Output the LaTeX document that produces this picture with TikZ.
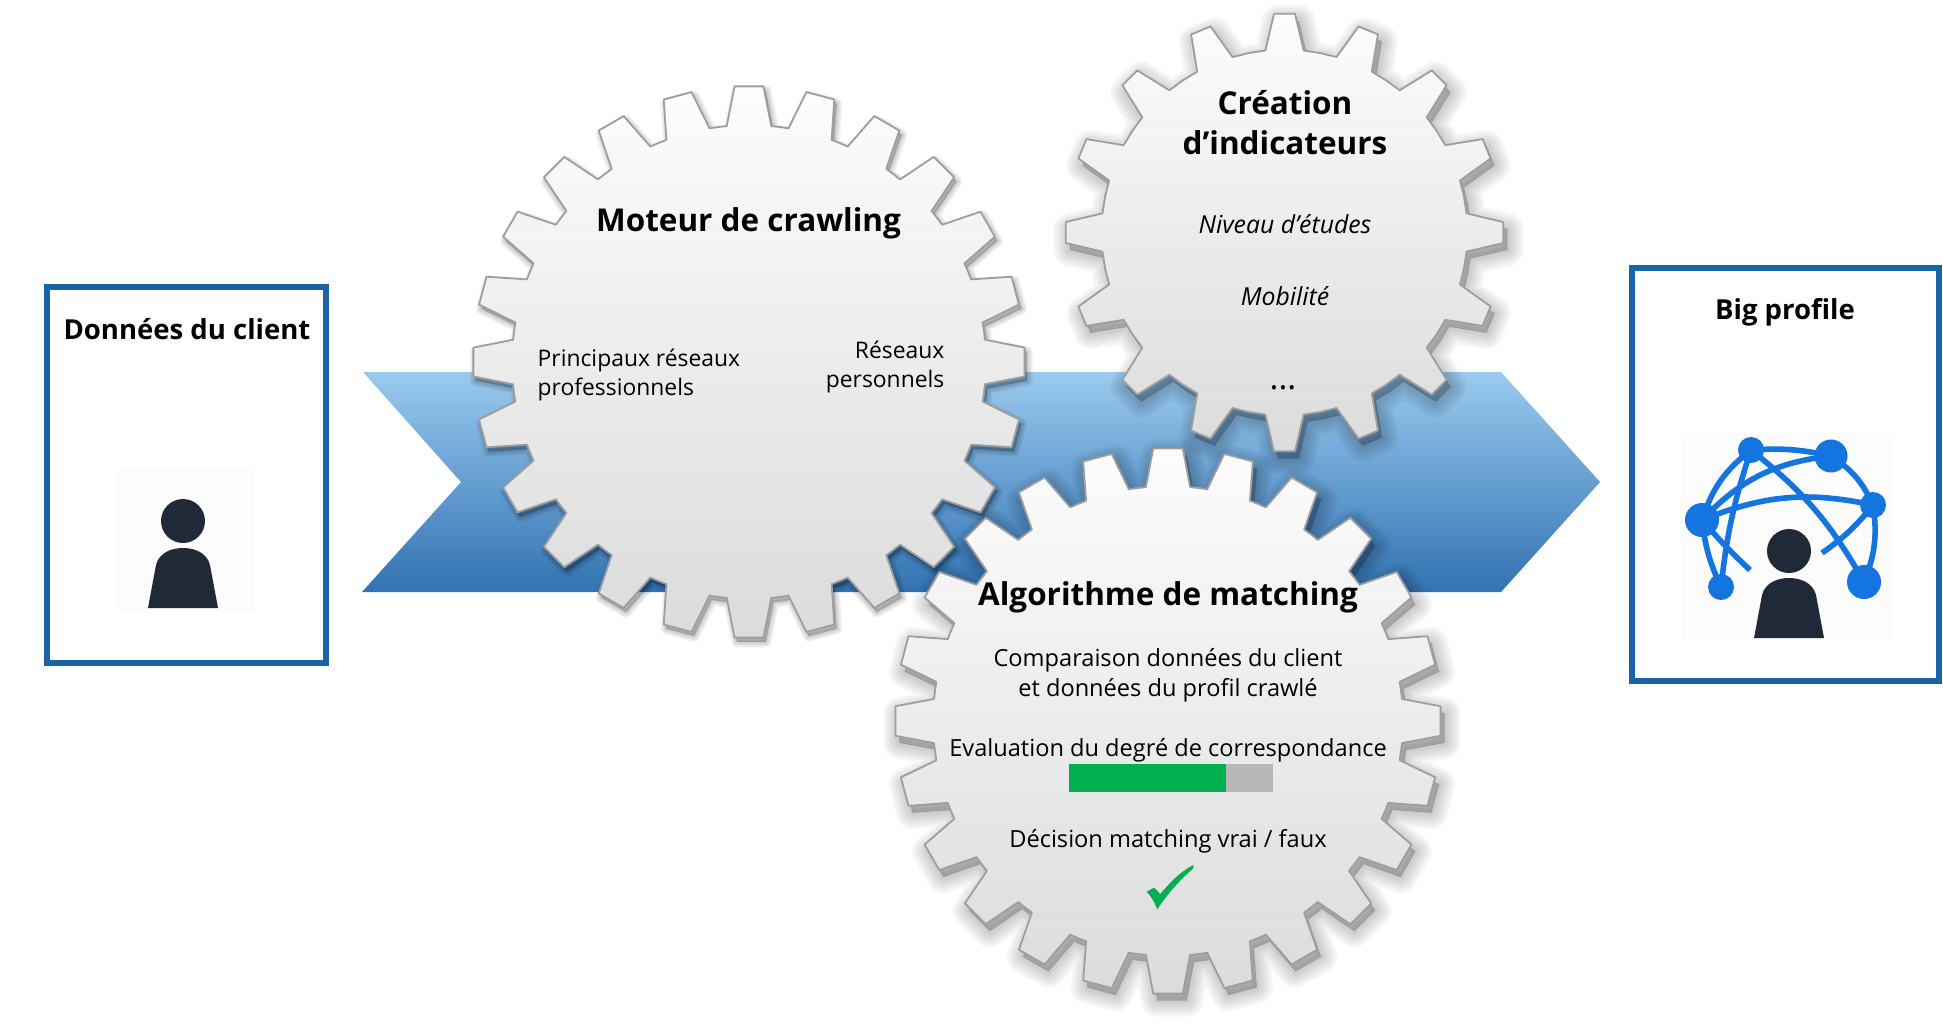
\documentclass[tikz,border=0pt]{standalone}
\usepackage{fontspec}
\setmainfont{Open Sans}
\usepackage{tikz}

\definecolor{boxblue}{HTML}{1A63A5}
\definecolor{arrowtop}{HTML}{9ACAEF}
\definecolor{arrowmid}{HTML}{6A9FD2}
\definecolor{arrowbot}{HTML}{3272B2}
\definecolor{netblue}{HTML}{1474E0}
\definecolor{persondark}{HTML}{1F2937}
\definecolor{okgreen}{HTML}{00B050}
\colorlet{gearline}{black!38}
\colorlet{geartop}{black!1}
\colorlet{gearbot}{black!14}

\newcommand{\gearoutline}[6][]{\path[#1] ({-#6}:#3)
  \foreach \k in {1,...,#4} {
    -- ({(\k-1)*360/#4-#5}:#2) -- ({(\k-1)*360/#4+#5}:#2)
    -- ({(\k-1)*360/#4+#6}:#3) -- ({(\k-1)*360/#4+180/#4}:#3)
    -- ({\k*360/#4-#6}:#3)
  } -- cycle;}

\newcommand{\gear}[8]{
\begin{scope}[shift={(#1,#2)}]
\begin{scope}[shift={(#8*4,#8*7)}]
\foreach \w in {32,26,20,14,8,2} {
  \gearoutline[draw=black, fill=black, opacity=0.04, line join=round, line width=#8*#8*\w*0.01cm]{#3}{#4}{#5}{#6}{#7}
}
\end{scope}
\gearoutline[draw=gearline, line width=0.018cm, line join=round, top color=geartop, bottom color=gearbot]{#3}{#4}{#5}{#6}{#7}
\end{scope}
}

\begin{document}
\begin{tikzpicture}[x=0.01cm, y=-0.01cm, every node/.style={inner sep=0pt},
  title/.style={font=\fontsize{8.95}{11.2}\selectfont\bfseries, align=center},
  boxtitle/.style={font=\fontsize{7.83}{9}\selectfont\bfseries},
  body/.style={font=\fontsize{6.71}{8.5}\selectfont, align=center},
  small/.style={font=\fontsize{6.5}{8.5}\selectfont},
  slanted/.style={font=\fontsize{7.05}{8.5}\selectfont\itshape},
  framebox/.style={draw=boxblue, line width=0.06cm},
  netdot/.style={circle, fill=netblue, inner sep=0pt},
  netline/.style={draw=netblue, line width=0.056cm},
  person/.pic={
    \fill[persondark] (0,0) circle (22);
    \fill[persondark] (-35,87) -- (-27,44) .. controls (-24,32) and (-12,27) .. (0,27)
      .. controls (12,27) and (24,32) .. (27,44) -- (35,87) -- cycle;
  }]
\useasboundingbox (0,0) rectangle (1943,1030);

\shade[top color=arrowtop, middle color=arrowmid, bottom color=arrowbot]
  (363,372) -- (1501,372) -- (1600,482) -- (1501,592) -- (362,592) -- (461,482) -- cycle;

\gear{749}{362}{276}{237}{24}{3}{5.4}{0.6}
\gear{1284.5}{232.5}{219}{183}{16}{2.75}{6}{1}
\gear{1168}{721}{273}{235}{24}{3.1}{5.4}{1}

\draw[framebox] (47,287) rectangle (326,663);
\draw[framebox] (1632,268) rectangle (1939,681);

\fill[black!1] (118,467) rectangle (255,612);
\pic at (183,521) {person};
\fill[black!1] (1681,433) rectangle (1890,640);
\pic at (1789,551) {person};

\node[netdot, minimum size=0.26cm] (n1) at (1751,450) {};
\node[netdot, minimum size=0.33cm] (n2) at (1831,456) {};
\node[netdot, minimum size=0.26cm] (n3) at (1873,505) {};
\node[netdot, minimum size=0.34cm] (n4) at (1702,520) {};
\node[netdot, minimum size=0.26cm] (n5) at (1721,587) {};
\node[netdot, minimum size=0.34cm] (n6) at (1864,582) {};
\coordinate (e1) at (1750,570);
\coordinate (e2) at (1822,553);
\draw[netline] (n1.center) to[bend left=8] (n2.center);
\draw[netline] (n4.center) to[bend left=20] (n2.center);
\draw[netline] (n4.center) to[bend left=17] (n3.center);
\draw[netline] (n1.center) to[bend left=11] (n6.center);
\draw[netline] (n1.center) to[bend right=6] (n5.center);
\draw[netline] (n4.center) to[bend left=17] (n1.center);
\draw[netline] (n2.center) to[bend left=16] (n3.center);
\draw[netline] (n3.center) to[bend left=15] (n6.center);
\draw[netline] (n4.center) to[bend right=9] (n5.center);
\draw[netline] (n4.center) to[bend right=3] (e1);
\draw[netline] (n3.center) to[bend left=8] (e2);

\fill[okgreen] (1069,764) rectangle (1226,792);
\fill[black!28] (1226,764) rectangle (1273,792);
\fill[okgreen] (1146.7,891.7) -- (1154,887.7) .. controls (1156,889) and (1158,891) .. (1160,894.3)
  .. controls (1168,885) and (1178,873) .. (1193.3,865) -- (1193.3,868.3)
  .. controls (1180,880) and (1168,893) .. (1157.3,909.3)
  .. controls (1155,904) and (1152,897) .. cycle;

\node[boxtitle] (clienttitle) at (187,329) {Données du client};
\node[boxtitle] (bigtitle) at (1785,312.5) {Big profile};
\node[title] (crawltitle) at (748.5,223) {Moteur de crawling};
\node[body, small, align=left, anchor=west] (reseauxpro) at (537,375) {Principaux réseaux\\professionnels};
\node[body, small, align=right, anchor=east] (reseauxperso) at (945,367) {Réseaux\\personnels};
\node[title] (indictitle) at (1285,122.5) {Création\\d’indicateurs};
\node[slanted] (etudes) at (1285,224.5) {Niveau d’études};
\node[slanted] (mobilite) at (1285,296.5) {Mobilité};
\node[font=\fontsize{9.5}{11}\selectfont] (etc) at (1283,388) {...};
\node[title] (matchtitle) at (1168,597) {Algorithme de matching};
\node[body] (compar) at (1168,675.5) {Comparaison données du client\\et données du profil crawlé};
\node[body] (degre) at (1168,750.5) {Evaluation du degré de correspondance};
\node[body] (decision) at (1168,841) {Décision matching vrai / faux};
\end{tikzpicture}
\end{document}
